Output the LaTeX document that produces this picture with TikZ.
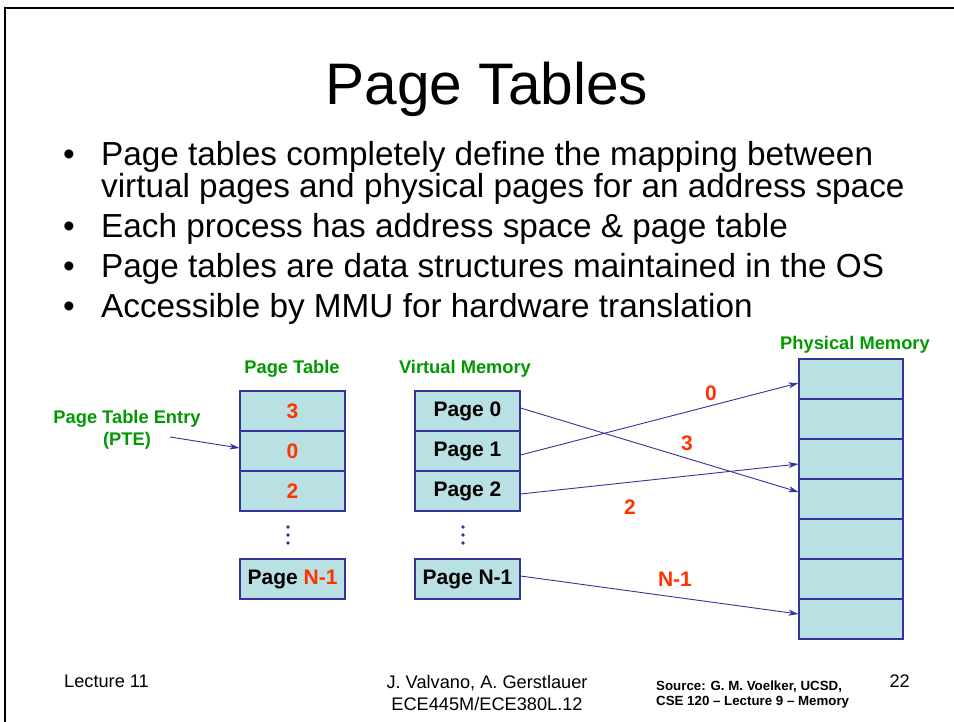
\documentclass[tikz,border=0pt]{standalone}
\usepackage{fontspec}
\setmainfont{Liberation Sans}
\usetikzlibrary{arrows.meta,calc}
\definecolor{boxfill}{RGB}{185,224,226}
\definecolor{navy}{RGB}{51,51,153}
\definecolor{lblgreen}{RGB}{0,153,0}
\definecolor{lblred}{RGB}{255,51,0}
\tikzset{
  cell/.style={draw=navy, fill=boxfill, line width=1.1pt, minimum width=105pt, minimum height=40pt, inner sep=0pt, font=\fontsize{21}{24}\selectfont\bfseries},
  pcell/.style={cell, minimum width=104pt},
  hdr/.style={text=lblgreen, font=\fontsize{18.3}{21}\selectfont\bfseries, inner sep=0pt},
  maplbl/.style={text=lblred, font=\fontsize{21}{24}\selectfont\bfseries, inner sep=0pt},
  conn/.style={draw=navy, line width=0.9pt, -{Stealth[length=10pt,width=6pt,inset=3pt]}},
  bodytxt/.style={anchor=base west, inner sep=0pt, font=\fontsize{33.3}{40}\selectfont},
  foot/.style={inner sep=0pt, font=\fontsize{18.2}{22}\selectfont},
  dotmark/.style={fill=navy, draw=none}
}
\begin{document}
\begin{tikzpicture}[x=1pt,y=-1pt]
\useasboundingbox (0,0) rectangle (954,721);
\fill[white] (0,0) rectangle (954,721);
% frame
\draw[line width=2.6pt, black] (5,730) -- (5,8) -- (960,8);
% title
\node[anchor=base, inner sep=0pt, font=\fontsize{58.6}{66}\selectfont] (title) at (487,104) {Page Tables};
% bullets
\node[bodytxt] (b1) at (63,165) {\textbullet};
\node[bodytxt] (t1) at (101,165) {Page tables completely define the mapping between};
\node[bodytxt] (t1b) at (101,197) {virtual pages and physical pages for an address space};
\node[bodytxt] (b2) at (63,237) {\textbullet};
\node[bodytxt] (t2) at (101,237) {Each process has address space \& page table};
\node[bodytxt] (b3) at (63,277) {\textbullet};
\node[bodytxt] (t3) at (101,277) {Page tables are data structures maintained in the OS};
\node[bodytxt] (b4) at (63,317) {\textbullet};
\node[bodytxt] (t4) at (101,317) {Accessible by MMU for hardware translation};
% headers
\node[hdr] (hpt) at (292,369) {Page Table};
\node[hdr] (hvm) at (465,369) {Virtual Memory};
\node[hdr] (hpm) at (855,345) {Physical Memory};
\node[hdr, align=center, font=\fontsize{18.3}{22}\selectfont\bfseries] (pte) at (127,430) {Page Table Entry\\(PTE)};
% page table
\node[cell, text=lblred] (pt0) at (292.5,411) {3};
\node[cell, text=lblred] (pt1) at (292.5,451) {0};
\node[cell, text=lblred] (pt2) at (292.5,491) {2};
\node[cell] (ptn) at (292.5,579) {Page \textcolor{lblred}{N-1}};
\foreach \yy in {527,535,543} {
  \fill[dotmark] (288,\yy) circle (1.8pt);
}
% virtual memory
\node[cell] (vp0) at (467.5,411) {Page 0};
\node[cell] (vp1) at (467.5,451) {Page 1};
\node[cell] (vp2) at (467.5,491) {Page 2};
\node[cell] (vpn) at (467.5,579) {Page N-1};
\foreach \yy in {527,535,543} {
  \fill[dotmark] (463,\yy) circle (1.8pt);
}
% physical memory
\foreach \i in {1,...,7} {
  \node[pcell] (pm\i) at (851,{339+40*\i}) {};
}
% PTE arrow
\coordinate (ptes) at (170,437);
\draw[conn] (ptes) -- ($(pt1.west)+(0,-3)$);
% mapping arrows
\draw[conn] ($(vp0.east)+(0,-3)$) -- ($(pm4.west)+(0,-7)$);
\draw[conn] ($(vp1.east)+(0,4)$) -- ($(pm1.west)+(0,4)$);
\draw[conn] ($(vp2.east)+(0,3)$) -- ($(pm3.west)+(0,5)$);
\draw[conn] ($(vpn.east)+(0,-3)$) -- ($(pm7.west)+(0,-5)$);
\node[maplbl] (l0) at (711,393) {0};
\node[maplbl] (l3) at (687,443) {3};
\node[maplbl] (l2) at (630,507) {2};
\node[maplbl] (ln) at (675,579) {N-1};
% footer
\node[foot, anchor=base west] (f1) at (64,687.5) {Lecture 11};
\node[foot, anchor=base] (f2) at (487,688) {J. Valvano, A. Gerstlauer};
\node[foot, anchor=base] (f3) at (487,710) {ECE445M/ECE380L.12};
\node[inner sep=0pt, anchor=base west, font=\fontsize{13.3}{16}\selectfont\bfseries] (f4) at (656,690) {Source: G. M. Voelker, UCSD,};
\node[inner sep=0pt, anchor=base west, font=\fontsize{13.3}{16}\selectfont\bfseries] (f5) at (656,705) {CSE 120 – Lecture 9 – Memory};
\node[foot, anchor=base east] (f6) at (910,687.5) {22};
\end{tikzpicture}
\end{document}
